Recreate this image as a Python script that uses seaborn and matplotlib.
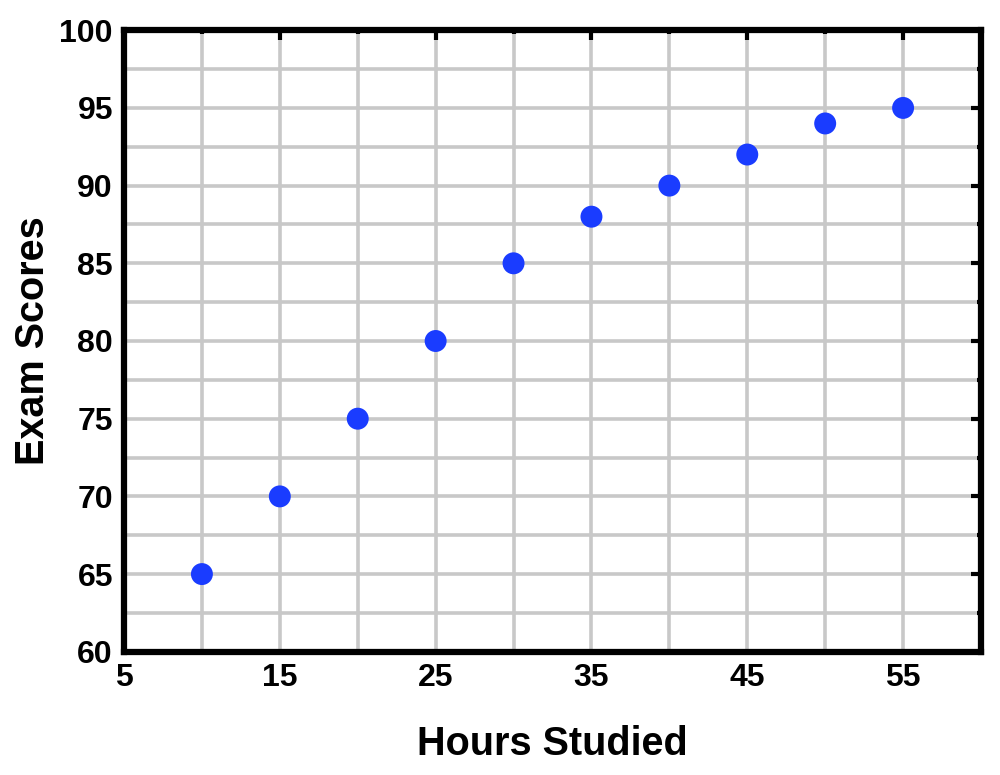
import numpy as np
import pandas as pd
import matplotlib
matplotlib.use("Agg")
import matplotlib.pyplot as plt
import seaborn as sns
from matplotlib.ticker import MultipleLocator

hours = [10, 15, 20, 25, 30, 35, 40, 45, 50, 55]
scores = [65, 70, 75, 80, 85, 88, 90, 92, 94, 95]
x_ticks = [5, 15, 25, 35, 45, 55]
y_ticks = [60, 65, 70, 75, 80, 85, 90, 95, 100]

df = pd.DataFrame({"Hours Studied": hours, "Exam Scores": scores})

sns.set_style("white")
plt.rcParams['font.family'] = ['Liberation Sans', 'DejaVu Sans']
plt.rcParams['font.weight'] = 'bold'
plt.rcParams['text.color'] = 'black'
plt.rcParams['axes.labelcolor'] = 'black'
plt.rcParams['xtick.color'] = 'black'
plt.rcParams['ytick.color'] = 'black'

fig = plt.figure(figsize=(10, 7.75), dpi=100)
ax = fig.add_axes([0.124, 0.159, 0.857, 0.802])

sns.scatterplot(data=df, x="Hours Studied", y="Exam Scores", ax=ax,
                color="#1a3cff", s=250, edgecolor="none", zorder=3)

ax.set_xlim(5, 60)
ax.set_ylim(60, 100)
ax.set_xticks(x_ticks)
ax.set_yticks(y_ticks)
ax.xaxis.set_minor_locator(MultipleLocator(5))
ax.yaxis.set_minor_locator(MultipleLocator(2.5))
ax.grid(True, which="both", color="#c8c8c8", linewidth=2.6, zorder=0)
ax.set_axisbelow(True)

ax.tick_params(which="major", direction="in", length=7, width=3, top=True, right=True,
               labelsize=23, pad=8, colors="black")
ax.tick_params(which="minor", direction="in", length=3, width=3, top=True, right=True,
               colors="black")
for lab in ax.get_xticklabels() + ax.get_yticklabels():
    lab.set_fontweight("bold")
for sp in ax.spines.values():
    sp.set_linewidth(4.5)
    sp.set_color("black")

ax.set_xlabel("Hours Studied", fontsize=28.5, fontweight="bold", labelpad=23)
ax.set_ylabel("Exam Scores", fontsize=28.5, fontweight="bold", labelpad=5)

fig.savefig("out.png", dpi=100)
